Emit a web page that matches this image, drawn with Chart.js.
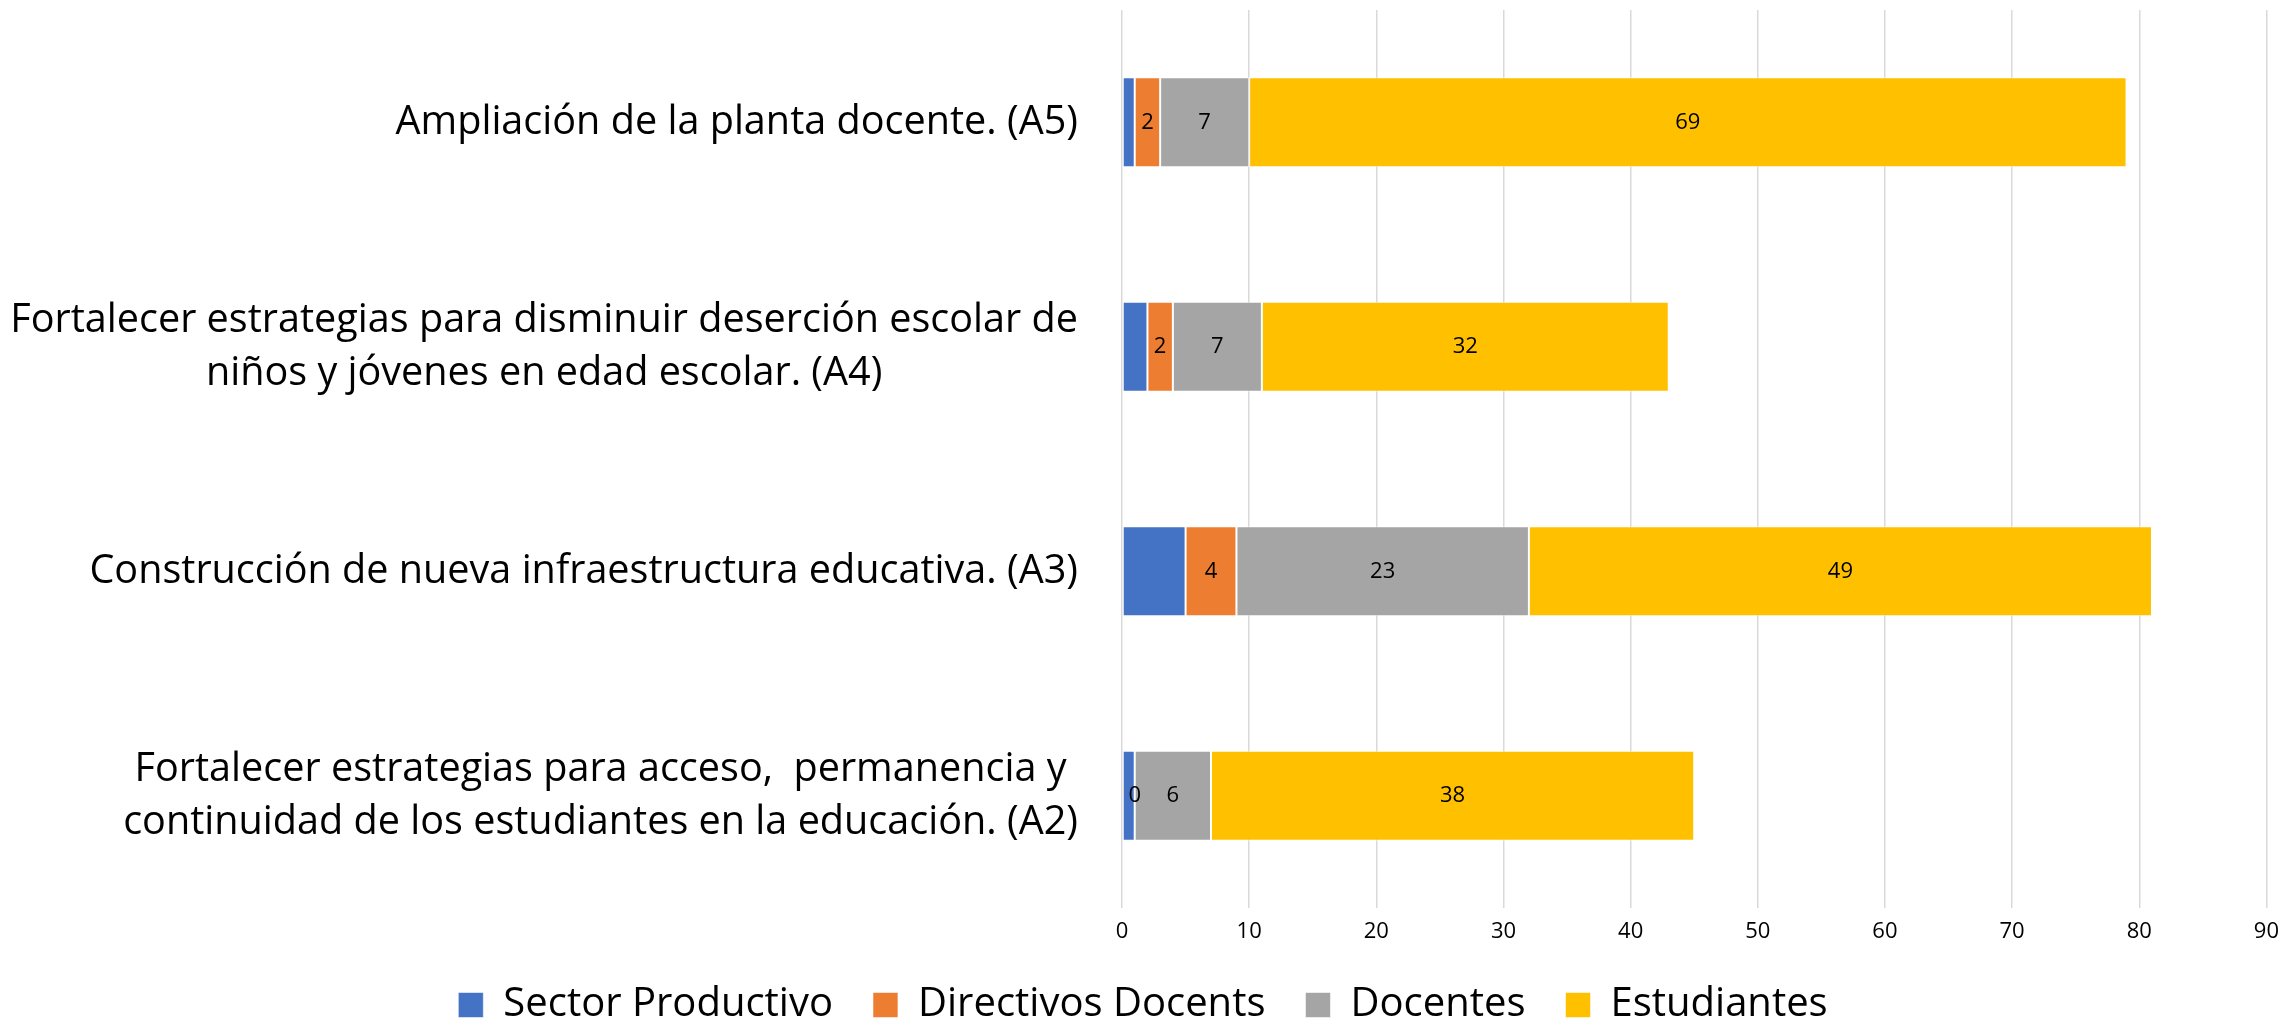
<!DOCTYPE html>
<html>
<head>
<meta charset="utf-8">
<script src="https://cdn.jsdelivr.net/npm/chart.js@4/dist/chart.umd.min.js"></script>
<style>
  html, body { margin: 0; padding: 0; background: #fff; }
</style>
</head>
<body>
<canvas id="chart" width="2290" height="1023"></canvas>
<script>
// categories, top to bottom
const categories = [
  ["Ampliación de la planta docente. (A5)"],
  ["Fortalecer estrategias para disminuir deserción escolar de", "niños y jóvenes en edad escolar. (A4)"],
  ["Construcción de nueva infraestructura educativa. (A3)"],
  ["Fortalecer estrategias para acceso,  permanencia y", "continuidad de los estudiantes en la educación. (A2)"]
];
const sectorProductivo = [1, 2, 5, 1];
const directivosDocents = [2, 2, 4, 0];
const docentes = [7, 7, 23, 6];
const estudiantes = [69, 32, 49, 38];
const xMin = 0, xMax = 90, xStep = 10;

const FONT = '"Open Sans", "Noto Sans", sans-serif';

// value labels inside the stacked segments
const valueLabels = {
  id: 'valueLabels',
  afterDatasetsDraw(chart) {
    const ctx = chart.ctx;
    ctx.save();
    ctx.font = '22px ' + FONT;
    ctx.fillStyle = '#000';
    ctx.textAlign = 'center';
    ctx.textBaseline = 'middle';
    chart.data.datasets.forEach((ds, i) => {
      if (!ds.showLabels) return;
      chart.getDatasetMeta(i).data.forEach((bar, j) => {
        const p = bar.getCenterPoint();
        ctx.fillText(String(ds.data[j]), p.x, p.y);
      });
    });
    ctx.restore();
  }
};

// category labels: block right aligned, lines centred inside the block
const categoryLabels = {
  id: 'categoryLabels',
  afterDraw(chart) {
    const ctx = chart.ctx;
    const y = chart.scales.y;
    const right = chart.chartArea.left - 44;
    const lh = 53;
    ctx.save();
    ctx.font = '39.6px ' + FONT;
    ctx.fillStyle = '#000';
    ctx.textAlign = 'center';
    ctx.textBaseline = 'middle';
    chart.data.labels.forEach((lines, i) => {
      const cy = y.getPixelForTick(i);
      const w = Math.max(...lines.map(l => ctx.measureText(l).width));
      const cx = right - w / 2;
      lines.forEach((l, k) => {
        ctx.fillText(l, cx, cy + (k - (lines.length - 1) / 2) * lh);
      });
    });
    ctx.restore();
  }
};

const barOpts = {
  categoryPercentage: 1,
  barPercentage: 0.4,
  borderWidth: 1,
  borderColor: 'rgba(255,255,255,0.55)',
  borderSkipped: false
};

new Chart(document.getElementById('chart').getContext('2d'), {
  type: 'bar',
  data: {
    labels: categories,
    datasets: [
      Object.assign({ label: 'Sector Productivo', data: sectorProductivo, backgroundColor: '#4472C4', showLabels: false }, barOpts),
      Object.assign({ label: 'Directivos Docents', data: directivosDocents, backgroundColor: '#ED7D31', showLabels: true }, barOpts),
      Object.assign({ label: 'Docentes', data: docentes, backgroundColor: '#A5A5A5', showLabels: true }, barOpts),
      Object.assign({ label: 'Estudiantes', data: estudiantes, backgroundColor: '#FFC000', showLabels: true }, barOpts)
    ]
  },
  options: {
    indexAxis: 'y',
    responsive: false,
    animation: false,
    layout: { padding: { top: 10, right: 4, bottom: -12, left: 0 } },
    scales: {
      x: {
        stacked: true,
        min: xMin,
        max: xMax,
        border: { display: false },
        grid: { color: '#D9D9D9', lineWidth: 1.5, drawTicks: false },
        ticks: { stepSize: xStep, color: '#000', padding: 11, font: { family: FONT, size: 22 } },
        afterFit(scale) { scale.height = 37; }
      },
      y: {
        stacked: true,
        border: { display: false },
        grid: { display: false },
        ticks: { display: false },
        afterFit(scale) { scale.width = 1122; }
      }
    },
    plugins: {
      legend: {
        position: 'bottom',
        labels: {
          color: '#000',
          boxWidth: 25,
          boxHeight: 25,
          padding: 40,
          font: { family: FONT, size: 40 }
        }
      },
      tooltip: { enabled: false }
    }
  },
  plugins: [valueLabels, categoryLabels]
});
</script>
</body>
</html>
